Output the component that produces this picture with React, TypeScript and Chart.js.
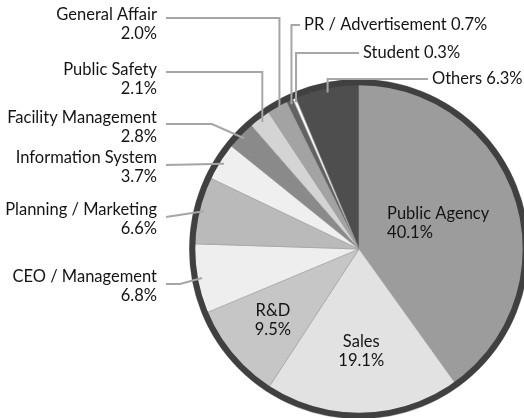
import React, { useEffect, useRef } from "react";
import { Chart, registerables } from "chart.js";

Chart.register(...registerables);

// ---- data ----
const categories = [
  "Public Agency",
  "Sales",
  "R&D",
  "CEO / Management",
  "Planning / Marketing",
  "Information System",
  "Facility Management",
  "Public Safety",
  "General Affair",
  "PR / Advertisement",
  "Student",
  "Others",
];
const shares = [40.1, 19.1, 9.5, 6.8, 6.6, 3.7, 2.8, 2.1, 2.0, 0.7, 0.3, 6.3];
const sliceColors = [
  "#9c9c9c",
  "#e2e2e2",
  "#c6c6c6",
  "#eeeeee",
  "#bababa",
  "#efefef",
  "#8a8a8a",
  "#d4d4d4",
  "#a3a3a3",
  "#626262",
  "#ffffff",
  "#4e4e4e",
];

// ---- label layout (positions of annotation text, not data) ----
type Lay =
  | { kind: "inside"; r: number; align: "left" | "center" }
  | { kind: "side"; textY: number; lineY: number; elbow: "vertical" | "direct" | number }
  | { kind: "top"; textX: number; y: number };

const labelLayout: Lay[] = [
  { kind: "inside", r: 0.49, align: "left" },
  { kind: "inside", r: 0.6, align: "center" },
  { kind: "inside", r: 0.66, align: "center" },
  { kind: "side", textY: 277, lineY: 284, elbow: 180 },
  { kind: "side", textY: 210, lineY: 217, elbow: "direct" },
  { kind: "side", textY: 158, lineY: 165, elbow: "direct" },
  { kind: "side", textY: 118, lineY: 124, elbow: 212 },
  { kind: "side", textY: 70, lineY: 72, elbow: "vertical" },
  { kind: "side", textY: 15, lineY: 18, elbow: "vertical" },
  { kind: "top", textX: 304, y: 25 },
  { kind: "top", textX: 363, y: 53 },
  { kind: "top", textX: 432, y: 79 },
];

const FONT = '16.5px Lato, "Open Sans", sans-serif';
const TEXT_COLOR = "#141414";
const LINE_COLOR = "#a6a6a6";
const RING_COLOR = "#404040";
const SIDE_TEXT_RIGHT = 157;
const SIDE_LINE_START = 166;
const LINE_GAP = 19;

const labelPlugin = {
  id: "pieLabels",
  afterDatasetsDraw(chart: any) {
    const ctx = chart.ctx as CanvasRenderingContext2D;
    const meta = chart.getDatasetMeta(0);
    const arcs = meta.data as any[];
    if (!arcs.length) return;
    const cx = arcs[0].x;
    const cy = arcs[0].y;
    const R = arcs[0].outerRadius;

    // outer ring
    ctx.save();
    ctx.beginPath();
    ctx.arc(cx, cy, R - 3, 0, Math.PI * 2);
    ctx.lineWidth = 6;
    ctx.strokeStyle = RING_COLOR;
    ctx.stroke();
    ctx.restore();

    ctx.save();
    ctx.font = FONT;
    ctx.fillStyle = TEXT_COLOR;
    ctx.textBaseline = "middle";
    ctx.strokeStyle = LINE_COLOR;
    ctx.lineWidth = 2;

    arcs.forEach((arc, i) => {
      const lay = labelLayout[i];
      const mid = (arc.startAngle + arc.endAngle) / 2;
      const pct = shares[i].toFixed(1) + "%";
      const name = categories[i];
      if (lay.kind === "inside") {
        const px = cx + Math.cos(mid) * R * lay.r;
        const py = cy + Math.sin(mid) * R * lay.r;
        const w = Math.max(ctx.measureText(name).width, ctx.measureText(pct).width);
        if (lay.align === "left") {
          ctx.textAlign = "left";
          ctx.fillText(name, px - w / 2, py - LINE_GAP / 2);
          ctx.fillText(pct, px - w / 2, py + LINE_GAP / 2);
        } else {
          ctx.textAlign = "center";
          ctx.fillText(name, px, py - LINE_GAP / 2);
          ctx.fillText(pct, px, py + LINE_GAP / 2);
        }
        return;
      }
      const ptx = cx + Math.cos(mid) * (R - 10);
      const pty = cy + Math.sin(mid) * (R - 10);
      if (lay.kind === "side") {
        ctx.beginPath();
        ctx.moveTo(SIDE_LINE_START, lay.lineY);
        if (lay.elbow === "vertical") {
          ctx.lineTo(ptx, lay.lineY);
        } else if (typeof lay.elbow === "number") {
          ctx.lineTo(lay.elbow, lay.lineY);
        }
        ctx.lineTo(ptx, pty);
        ctx.stroke();
        ctx.textAlign = "right";
        ctx.fillText(name, SIDE_TEXT_RIGHT, lay.textY);
        ctx.fillText(pct, SIDE_TEXT_RIGHT, lay.textY + LINE_GAP);
      } else {
        ctx.beginPath();
        ctx.moveTo(lay.textX - 4, lay.y);
        ctx.lineTo(ptx, lay.y);
        ctx.lineTo(ptx, pty);
        ctx.stroke();
        ctx.textAlign = "left";
        ctx.fillText(name + " " + pct, lay.textX, lay.y);
      }
    });
    ctx.restore();
  },
};

export default function App() {
  const ref = useRef<HTMLCanvasElement | null>(null);
  useEffect(() => {
    document.body.style.overflow = "hidden";
    document.documentElement.style.overflow = "hidden";
    if (!ref.current) return;
    const chart = new Chart(ref.current, {
      type: "pie",
      data: {
        labels: categories,
        datasets: [
          {
            data: shares,
            backgroundColor: sliceColors,
            borderColor: "#9a9a9a",
            borderWidth: 0.6,
          },
        ],
      },
      options: {
        animation: false,
        responsive: false,
        devicePixelRatio: 1,
        layout: { padding: { left: 189, top: 79, right: 11, bottom: 11 } },
        plugins: {
          legend: { display: false },
          tooltip: { enabled: false },
        },
      },
      plugins: [labelPlugin],
    });
    return () => chart.destroy();
  }, []);
  return (
    <div style={{ position: "fixed", left: 0, top: 0, width: 540, height: 430, background: "#fff" }}>
      <canvas ref={ref} width={540} height={430} style={{ display: "block" }} />
    </div>
  );
}
